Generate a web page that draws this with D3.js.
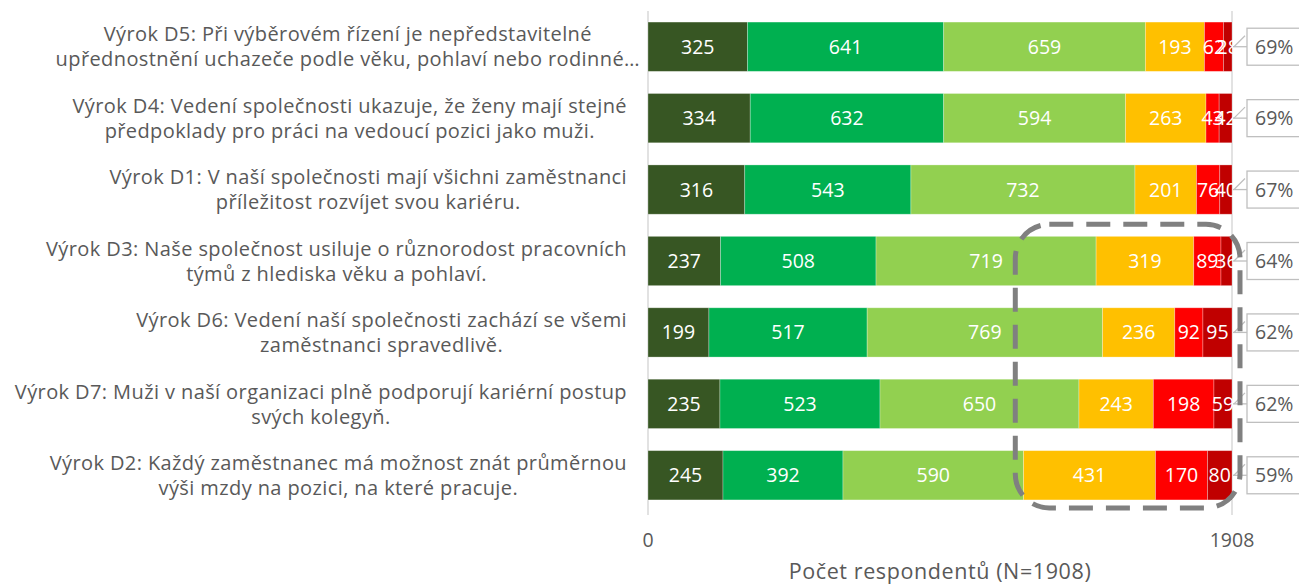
<!DOCTYPE html>
<html>
<head>
<meta charset="utf-8">
<script src="https://cdn.jsdelivr.net/npm/d3@7"></script>
<style>
  html, body { margin: 0; padding: 0; background: #fff; }
  svg { display: block; font-family: "Open Sans", Lato, sans-serif; }
</style>
</head>
<body>
<svg id="chart" width="1299" height="584"></svg>
<script>
const categories = ["D5", "D4", "D1", "D3", "D6", "D7", "D2"];
const labelLines = [
  ["Výrok D5: Při výběrovém řízení je nepředstavitelné", "upřednostnění uchazeče podle věku, pohlaví nebo rodinné…"],
  ["Výrok D4: Vedení společnosti ukazuje, že ženy mají stejné", "předpoklady pro práci na vedoucí pozici jako muži."],
  ["Výrok D1: V naší společnosti mají všichni zaměstnanci", "příležitost rozvíjet svou kariéru."],
  ["Výrok D3: Naše společnost usiluje o různorodost pracovních", "týmů z hlediska věku a pohlaví."],
  ["Výrok D6: Vedení naší společnosti zachází se všemi", "zaměstnanci spravedlivě."],
  ["Výrok D7: Muži v naší organizaci plně podporují kariérní postup", "svých kolegyň."],
  ["Výrok D2: Každý zaměstnanec má možnost znát průměrnou", "výši mzdy na pozici, na které pracuje."]
];
const s1 = [325, 334, 316, 237, 199, 235, 245];
const s2 = [641, 632, 543, 508, 517, 523, 392];
const s3 = [659, 594, 732, 719, 769, 650, 590];
const s4 = [193, 263, 201, 319, 236, 243, 431];
const s5 = [62, 43, 76, 89, 92, 198, 170];
const s6 = [28, 42, 40, 36, 95, 59, 80];
const percents = ["69%", "69%", "67%", "64%", "62%", "62%", "59%"];
const colors = ["#375623", "#00b050", "#92d050", "#ffc000", "#ff0000", "#c00000"];
const total = 1908;
const tickValues = [0, 1908];
const axisTitle = "Počet respondentů (N=1908)";

(function () {
const series = [s1, s2, s3, s4, s5, s6];
const svg = d3.select("#chart");

const x = d3.scaleLinear().domain([0, total]).range([648, 1232]);
const y = d3.scaleBand().domain(categories).range([11, 511]).paddingInner(0.31).paddingOuter(0.155);

svg.append("line").attr("x1", x(total)).attr("x2", x(total)).attr("y1", 11).attr("y2", 515)
  .attr("stroke", "#d9d9d9").attr("stroke-width", 1.5);
svg.append("line").attr("x1", x(0)).attr("x2", x(0)).attr("y1", 11).attr("y2", 515)
  .attr("stroke", "#d9d9d9").attr("stroke-width", 1.5);

const rows = categories.map((c, i) => {
  let acc = 0;
  return series.map((s, k) => {
    const d = { cat: c, k, v: s[i], x0: acc, x1: acc + s[i] };
    acc += s[i];
    return d;
  });
});

const g = svg.append("g");
rows.forEach(row => {
  g.selectAll(null).data(row).enter().append("rect")
    .attr("x", d => x(d.x0))
    .attr("y", d => y(d.cat))
    .attr("width", d => x(d.x1) - x(d.x0))
    .attr("height", y.bandwidth())
    .attr("fill", d => colors[d.k])
    .attr("stroke", "#ffffff").attr("stroke-opacity", 0.35).attr("stroke-width", 0.8);
});
rows.forEach(row => {
  g.selectAll(null).data(row).enter().append("text")
    .attr("x", d => (x(d.x0) + x(d.x1)) / 2)
    .attr("y", d => y(d.cat) + y.bandwidth() / 2)
    .attr("dy", "0.36em")
    .attr("text-anchor", "middle")
    .attr("fill", "#ffffff")
    .attr("font-size", 19.5)
    .text(d => d.v);
});

const lab = svg.append("g");
categories.forEach((c, i) => {
  const cy = y(c) + y.bandwidth() / 2;
  const t = lab.append("text").attr("font-size", 20).attr("letter-spacing", 0.4)
    .attr("fill", "#595959").attr("text-anchor", "middle");
  const spans = labelLines[i].map((ln, j) => t.append("tspan").attr("x", 0).attr("y", cy + (j === 0 ? -12.5 : 12.5)).attr("dy", "0.36em").text(ln));
  const w = d3.max(spans, s => s.node().getComputedTextLength());
  const right = labelLines[i].some(l => l.endsWith("…")) ? 640 : 627;
  const cx = right - w / 2;
  spans.forEach(s => s.attr("x", cx));
});

svg.selectAll(".tick").data(tickValues).enter().append("text")
  .attr("x", d => x(d)).attr("y", 540).attr("dy", "0.36em")
  .attr("text-anchor", "middle").attr("fill", "#595959").attr("font-size", 19.5)
  .text(d => d);
svg.append("text").attr("x", (x(0) + x(total)) / 2).attr("y", 571).attr("dy", "0.36em")
  .attr("text-anchor", "middle").attr("fill", "#595959").attr("font-size", 21.5).attr("letter-spacing", 0.6)
  .text(axisTitle);

const co = svg.append("g");
categories.forEach((c, i) => {
  const cy = y(c) + y.bandwidth() / 2;
  const xe = x(total);
  co.append("line").attr("x1", xe + 1).attr("x2", xe + 15).attr("y1", cy).attr("y2", cy)
    .attr("stroke", "#bfbfbf").attr("stroke-width", 1.3);
  co.append("line").attr("x1", xe + 2).attr("x2", xe + 13).attr("y1", cy).attr("y2", cy - 11)
    .attr("stroke", "#bfbfbf").attr("stroke-width", 1.3);
  co.append("rect").attr("x", xe + 15).attr("y", cy - 18.5).attr("width", 70).attr("height", 37)
    .attr("fill", "#ffffff").attr("stroke", "#bfbfbf").attr("stroke-width", 1.3);
  co.append("text").attr("x", xe + 23).attr("y", cy).attr("dy", "0.36em")
    .attr("fill", "#595959").attr("font-size", 19.5).text(percents[i]);
});

const hlTop = y("D3") - 12;
const hlBot = y("D2") + y.bandwidth() + 8;
svg.append("rect")
  .attr("x", x(1200)).attr("y", hlTop)
  .attr("width", x(total) + 8 - x(1200)).attr("height", hlBot - hlTop)
  .attr("rx", 34).attr("ry", 34)
  .attr("fill", "none").attr("stroke", "#808080").attr("stroke-width", 5)
  .attr("stroke-dasharray", "24 13");
})();
</script>
</body>
</html>
